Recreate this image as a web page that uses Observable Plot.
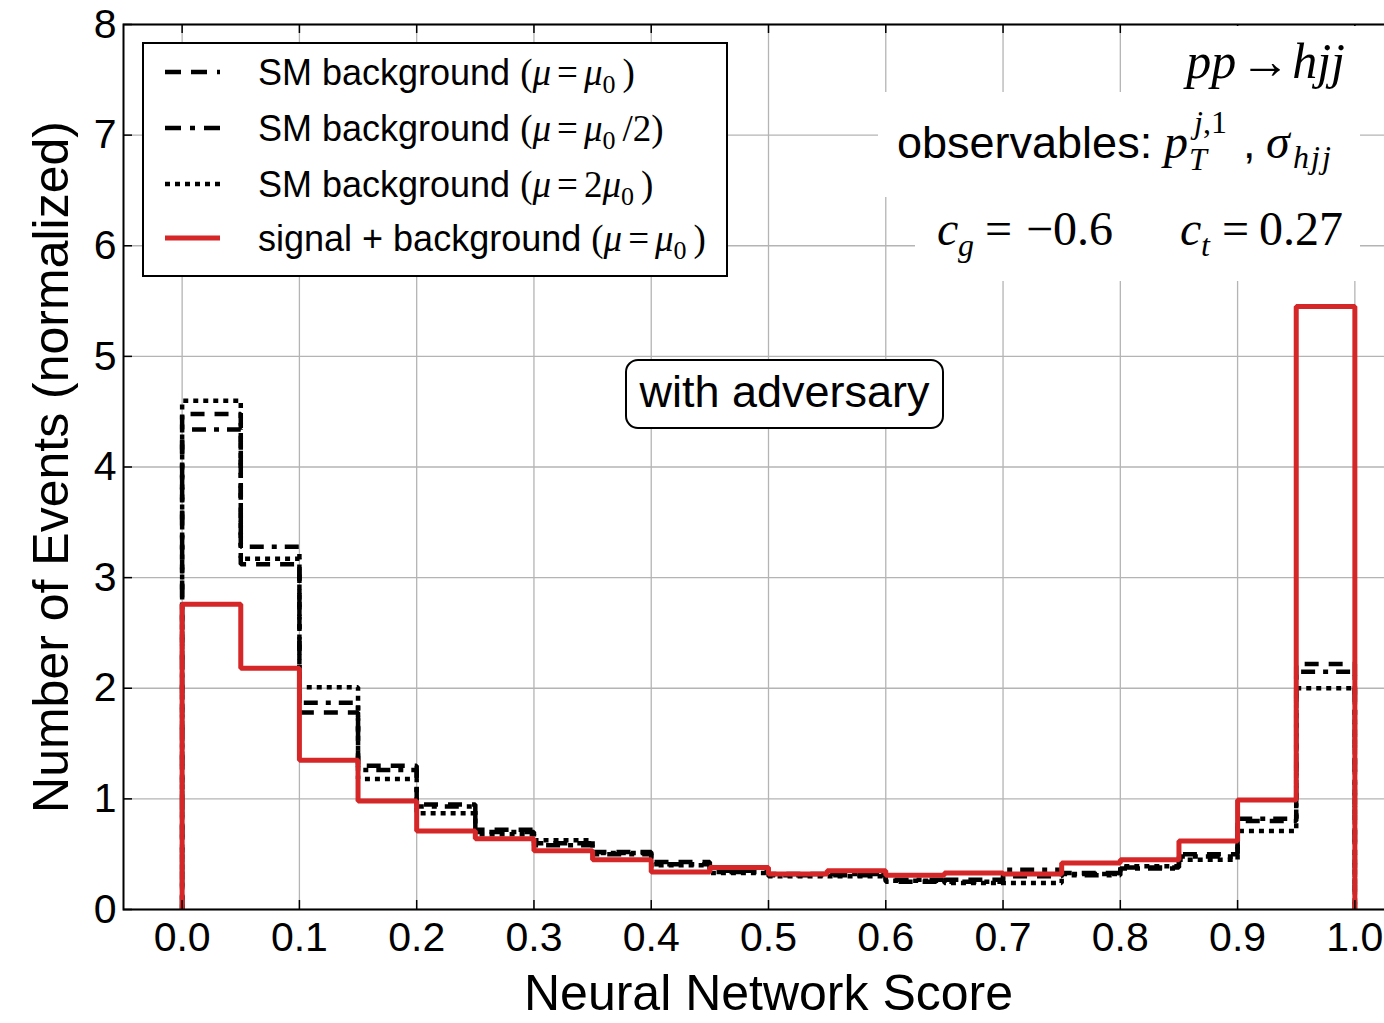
<!DOCTYPE html>
<html>
<head>
<meta charset="utf-8">
<script src="https://cdn.jsdelivr.net/npm/d3@7"></script>
<script src="https://cdn.jsdelivr.net/npm/@observablehq/plot@0.6"></script>
<style>
  html, body { margin: 0; padding: 0; background: #fff; overflow: hidden; }
  #wrap { position: relative; width: 1384px; height: 1023px; overflow: hidden; }
  #chart { position: absolute; left: 0; top: 0; }
  #chart svg { max-width: none !important; }
  #overlay { position: absolute; left: 0; top: 0; }
  .sans { font-family: "Liberation Sans", Arial, sans-serif; }
  .ser { font-family: "Liberation Serif", "Times New Roman", serif; }
</style>
</head>
<body>
<div id="wrap">
  <div id="chart"></div>
  <svg id="overlay" width="1384" height="1023" xmlns="http://www.w3.org/2000/svg">
    <!-- white boxes behind the process / observable / coupling notes -->
    <rect x="1160" y="26" width="200" height="66" fill="#fff"/>
    <rect x="878" y="92" width="482" height="105" fill="#fff"/>
    <rect x="915" y="197" width="445" height="84" fill="#fff"/>

    <!-- legend -->
    <rect x="143" y="43" width="584" height="233" fill="#fff" stroke="#000" stroke-width="2"/>
    <line x1="165" x2="220" y1="72" y2="72" stroke="#000" stroke-width="4.5" stroke-dasharray="16,10"/>
    <line x1="165" x2="220" y1="128" y2="128" stroke="#000" stroke-width="4.5" stroke-dasharray="16,9,5,9"/>
    <line x1="165" x2="220" y1="184" y2="184" stroke="#000" stroke-width="4.5" stroke-dasharray="5,5"/>
    <line x1="165" x2="220" y1="238" y2="238" stroke="#d62728" stroke-width="5"/>

    <text x="258" y="85" font-size="36" class="sans">SM background <tspan class="ser" font-size="37">(<tspan font-style="italic">μ</tspan><tspan dx="6">=</tspan><tspan dx="6" font-style="italic">μ</tspan><tspan dy="8" font-size="26">0</tspan><tspan dy="-8" dx="7">)</tspan></tspan></text>
    <text x="258" y="141" font-size="36" class="sans">SM background <tspan class="ser" font-size="37">(<tspan font-style="italic">μ</tspan><tspan dx="6">=</tspan><tspan dx="6" font-style="italic">μ</tspan><tspan dy="8" font-size="26">0</tspan><tspan dy="-8" dx="7">/2)</tspan></tspan></text>
    <text x="258" y="197" font-size="36" class="sans">SM background <tspan class="ser" font-size="37">(<tspan font-style="italic">μ</tspan><tspan dx="6">=</tspan><tspan dx="6">2</tspan><tspan font-style="italic">μ</tspan><tspan dy="8" font-size="26">0</tspan><tspan dy="-8" dx="7">)</tspan></tspan></text>
    <text x="258" y="251" font-size="36" class="sans">signal + background <tspan class="ser" font-size="37">(<tspan font-style="italic">μ</tspan><tspan dx="6">=</tspan><tspan dx="6" font-style="italic">μ</tspan><tspan dy="8" font-size="26">0</tspan><tspan dy="-8" dx="7">)</tspan></tspan></text>

    <!-- process -->
    <text x="1345" y="78" text-anchor="end" font-size="50" class="ser"><tspan font-style="italic">pp</tspan><tspan dx="4">→</tspan><tspan dx="2" font-style="italic">hjj</tspan></text>

    <!-- observables -->
    <text x="897" y="158" font-size="45" class="sans">observables:</text>
    <text x="1164" y="158" font-size="48" class="ser" font-style="italic">p</text>
    <text x="1189" y="170" font-size="32" class="ser" font-style="italic">T</text>
    <text x="1194" y="133" font-size="32" class="ser"><tspan font-style="italic">j</tspan>,1</text>
    <text x="1243" y="158" font-size="45" class="sans">,</text>
    <text x="1266" y="158" font-size="48" class="ser" font-style="italic">σ</text>
    <text x="1293" y="168" font-size="32" class="ser" font-style="italic" letter-spacing="2">hjj</text>

    <!-- couplings -->
    <text x="937" y="245" font-size="48" class="ser" font-style="italic">c</text>
    <text x="958" y="256" font-size="32" class="ser" font-style="italic">g</text>
    <text x="985" y="245" font-size="48" class="ser">=</text>
    <text x="1026" y="245" font-size="48" class="ser">−0.6</text>
    <text x="1180" y="245" font-size="48" class="ser" font-style="italic">c</text>
    <text x="1201" y="256" font-size="32" class="ser" font-style="italic">t</text>
    <text x="1222" y="245" font-size="48" class="ser">=</text>
    <text x="1259" y="245" font-size="48" class="ser">0.27</text>

    <!-- note box -->
    <rect x="626" y="360" width="317" height="68" rx="12" ry="12" fill="#fff" stroke="#000" stroke-width="2"/>
    <text x="784.5" y="407" text-anchor="middle" font-size="45" class="sans">with adversary</text>
  </svg>
</div>
<script>
// Bin edges of the neural-network score histogram (20 bins of width 0.05)
const binEdges = [0, 0.05, 0.1, 0.15, 0.2, 0.25, 0.3, 0.35, 0.4, 0.45, 0.5,
                  0.55, 0.6, 0.65, 0.7, 0.75, 0.8, 0.85, 0.9, 0.95, 1.0];

// Normalized event counts per bin
const smMu0    = [4.48, 3.12, 1.78, 1.30, 0.95, 0.72, 0.60, 0.52, 0.43, 0.35,
                  0.32, 0.31, 0.25, 0.27, 0.30, 0.33, 0.38, 0.50, 0.80, 2.22];
const smHalf   = [4.34, 3.28, 1.87, 1.26, 0.93, 0.70, 0.58, 0.50, 0.41, 0.34,
                  0.31, 0.32, 0.27, 0.25, 0.36, 0.31, 0.37, 0.48, 0.82, 2.15];
const smDouble = [4.60, 3.17, 2.01, 1.18, 0.87, 0.68, 0.625, 0.51, 0.40, 0.33,
                  0.30, 0.30, 0.26, 0.24, 0.24, 0.32, 0.39, 0.45, 0.71, 2.00];
const sigBkg   = [2.76, 2.18, 1.35, 0.98, 0.71, 0.64, 0.53, 0.45, 0.34, 0.38,
                  0.32, 0.35, 0.31, 0.33, 0.32, 0.42, 0.45, 0.62, 0.99, 5.45];

// Axis ticks
const xTicks = [0, 0.1, 0.2, 0.3, 0.4, 0.5, 0.6, 0.7, 0.8, 0.9, 1.0];
const xTickLabels = ["0.0", "0.1", "0.2", "0.3", "0.4", "0.5", "0.6", "0.7", "0.8", "0.9", "1.0"];
const yTicks = [0, 1, 2, 3, 4, 5, 6, 7, 8];
const yTickLabels = ["0", "1", "2", "3", "4", "5", "6", "7", "8"];

// Closed step outline: rise from zero at the first edge, fall back to zero at the last
function steps(values) {
  const last = binEdges.length - 1;
  const pts = [{x: binEdges[0], y: 0}];
  values.forEach((v, i) => pts.push({x: binEdges[i], y: v}));
  pts.push({x: binEdges[last], y: values[values.length - 1]});
  pts.push({x: binEdges[last], y: 0});
  return pts;
}

const lineStyle = {x: "x", y: "y", curve: "step-after", strokeLinecap: "butt", strokeLinejoin: "miter"};

const chart = Plot.plot({
  width: 1440,
  height: 1023,
  marginLeft: 123,
  marginRight: 27,
  marginTop: 24,
  marginBottom: 114,
  x: {domain: [-0.05, 1.05]},
  y: {domain: [0, 8]},
  style: {background: "transparent", fontFamily: "'Liberation Sans', Arial, sans-serif", color: "black", overflow: "visible"},
  marks: [
    Plot.gridX(xTicks, {stroke: "#b4b4b4", strokeOpacity: 1, strokeWidth: 1.3}),
    Plot.gridY(yTicks, {stroke: "#b4b4b4", strokeOpacity: 1, strokeWidth: 1.3}),
    Plot.line(steps(smMu0),    {...lineStyle, stroke: "black", strokeWidth: 4.5, strokeDasharray: "14,10"}),
    Plot.line(steps(smHalf),   {...lineStyle, stroke: "black", strokeWidth: 4.5, strokeDasharray: "14,8,5,8"}),
    Plot.line(steps(smDouble), {...lineStyle, stroke: "black", strokeWidth: 4.5, strokeDasharray: "5,5"}),
    Plot.line(steps(sigBkg),   {...lineStyle, stroke: "#d62728", strokeWidth: 5}),
    Plot.frame({stroke: "black", strokeWidth: 2}),
    // inward ticks on bottom, top and left spines
    Plot.tickX(xTicks, {x: d => d, stroke: "black", strokeWidth: 1.5, insetTop: 876}),
    Plot.tickX(xTicks, {x: d => d, stroke: "black", strokeWidth: 1.5, insetBottom: 876}),
    Plot.tickY(yTicks, {y: d => d, stroke: "black", strokeWidth: 1.5, insetRight: 1281}),
    Plot.axisX(xTicks, {tickSize: 0, tickPadding: 12, fontSize: 41, label: null,
                        tickFormat: d => xTickLabels[xTicks.indexOf(d)]}),
    Plot.axisY(yTicks, {tickSize: 0, tickPadding: 7, fontSize: 41, label: null,
                        tickFormat: d => yTickLabels[yTicks.indexOf(d)]}),
    Plot.text(["Neural Network Score"], {frameAnchor: "bottom", dy: 84, fontSize: 50, lineAnchor: "middle"}),
    Plot.text(["Number of Events (normalized)"], {frameAnchor: "left", dx: -72, rotate: -90, fontSize: 50,
                                                  textAnchor: "middle", lineAnchor: "middle"})
  ]
});

document.getElementById("chart").appendChild(chart);
</script>
</body>
</html>
